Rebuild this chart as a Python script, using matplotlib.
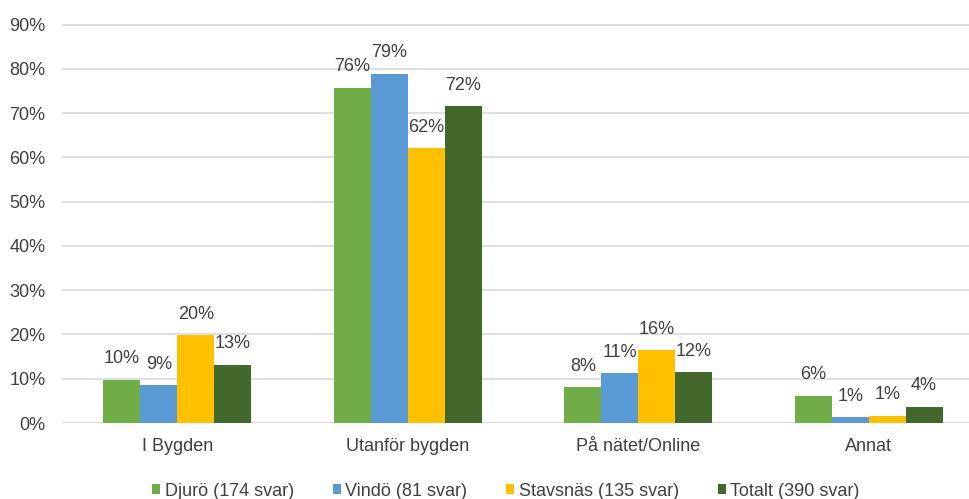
import numpy as np
import matplotlib
matplotlib.use("Agg")
import matplotlib.pyplot as plt

plt.rcParams['font.family'] = ['Liberation Sans', 'DejaVu Sans']

# Data
categories = ['I Bygden', 'Utanför bygden', 'På nätet/Online', 'Annat']
series = ['Djurö (174 svar)', 'Vindö (81 svar)', 'Stavsnäs (135 svar)', 'Totalt (390 svar)']
djuro = [9.8, 75.7, 8.1, 6.2]
vindo = [8.6, 78.9, 11.2, 1.35]
stavsnas = [19.9, 62.1, 16.4, 1.65]
totalt = [13.2, 71.6, 11.5, 3.7]
# labels as printed on the chart
djuro_lbl = [10, 76, 8, 6]
vindo_lbl = [9, 79, 11, 1]
stavsnas_lbl = [20, 62, 16, 1]
totalt_lbl = [13, 72, 12, 4]

colors = ['#70AD47', '#5B9BD5', '#FFC000', '#43682B']
text_color = '#404040'

fig = plt.figure(figsize=(9.69, 4.99), dpi=100)
ax = fig.add_axes([62 / 969, 1 - 423 / 499, (984 - 62) / 969, (423 - 22.3) / 499])

x = np.arange(len(categories))
w = 0.16
values = [djuro, vindo, stavsnas, totalt]
labels = [djuro_lbl, vindo_lbl, stavsnas_lbl, totalt_lbl]
for i, (vals, lbls) in enumerate(zip(values, labels)):
    pos = x + (i - 1.5) * w
    bars = ax.bar(pos, vals, width=w, color=colors[i], label=series[i], zorder=3)
    for b, l in zip(bars, lbls):
        ax.annotate(f'{l}%', (b.get_x() + b.get_width() / 2, b.get_height()),
                    xytext=(0, 15), textcoords='offset points',
                    ha='center', va='center', fontsize=13, color=text_color)

ax.set_xlim(-0.5, 3.5)
ax.set_ylim(0, 90.5)
ax.set_yticks(range(0, 91, 10))
ax.set_yticklabels([f'{v}%' for v in range(0, 91, 10)])
ax.set_xticks(x)
ax.set_xticklabels(categories)
ax.tick_params(axis='both', length=0, labelsize=13, labelcolor=text_color)
ax.tick_params(axis='y', pad=12)
ax.tick_params(axis='x', pad=10.5)
ax.yaxis.grid(True, color='#D9D9D9', linewidth=1.2, zorder=0)
ax.set_axisbelow(True)
for s in ax.spines.values():
    s.set_visible(False)
ax.axhline(0, color='#D9D9D9', linewidth=1.2, zorder=2)

leg = fig.legend(loc='center', bbox_to_anchor=(506 / 969, 1 - 491 / 499), ncol=4,
                 frameon=False, fontsize=13, handlelength=0.45, handleheight=0.45,
                 handletextpad=0.25, columnspacing=2.15, borderaxespad=0)
for t in leg.get_texts():
    t.set_color(text_color)

fig.savefig('out.png', dpi=100)
